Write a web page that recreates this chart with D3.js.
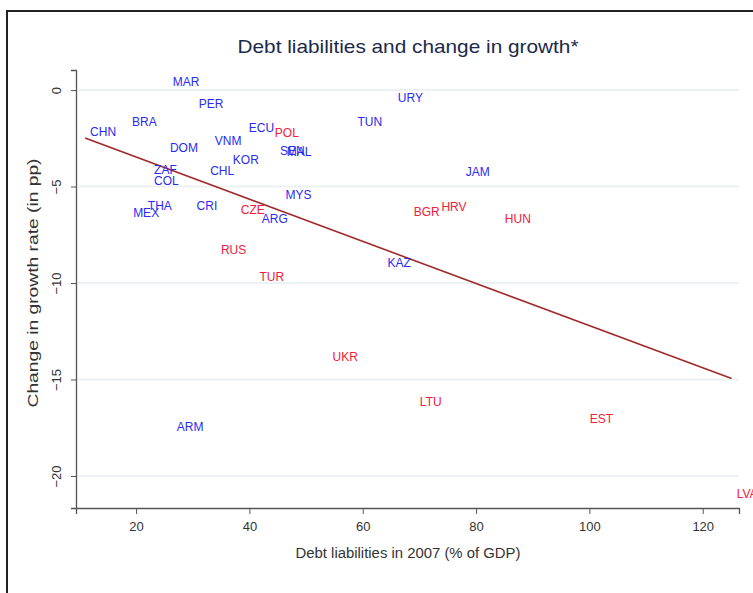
<!DOCTYPE html>
<html><head><meta charset="utf-8">
<script src="https://cdn.jsdelivr.net/npm/d3@7"></script>
<style>body{margin:0;background:#fff;overflow:hidden}svg{display:block;font-family:"Liberation Sans",Arial,sans-serif}</style>
</head><body>
<svg id="c" width="753" height="593"></svg>
<script>
// Country codes, debt liabilities 2007 (% GDP), change in growth (pp), group (1 = emerging Europe, red)
const countries = ["MAR","PER","URY","BRA","CHN","ECU","POL","TUN","VNM","DOM","SEN","MAL","KOR","CHL","ZAF","COL","JAM","MYS","THA","MEX","CRI","CZE","ARG","BGR","HRV","HUN","RUS","TUR","KAZ","UKR","LTU","EST","ARM","LVA"];
const debt =      [25.6, 30.2, 65.3, 18.4, 11.0, 39.0, 43.6, 58.2, 33.0, 25.1, 44.5, 45.7, 36.2, 32.2, 22.3, 22.3, 77.3, 45.5, 21.2, 18.6, 29.8, 37.6, 41.3, 68.1, 73.0, 84.2, 34.1, 40.9, 63.5, 53.8, 69.2, 99.2, 26.3, 125.1];
const growthChg = [0.41,-0.73,-0.41,-1.66,-2.18,-1.97,-2.23,-1.66,-2.64,-3.01,-3.16,-3.21,-3.63,-4.20,-4.15,-4.72,-4.25,-5.44,-6.01,-6.37,-6.01,-6.22,-6.68,-6.32,-6.06,-6.68,-8.29,-9.69,-8.96,-13.83,-16.17,-17.05,-17.46,-20.93];
const group =     [0,0,0,0,0,0,1,0,0,0,0,0,0,0,0,0,0,0,0,0,0,1,0,1,1,1,1,1,0,1,1,1,0,1];
// Fitted line endpoints
const fitX = [11.0, 125.1];
const fitY = [-2.49, -14.95];
const xTicks = [20, 40, 60, 80, 100, 120];
const yTicks = [0, -5, -10, -15, -20];

const svg = d3.select("#c");
// outer frame
svg.append("rect").attr("x",7).attr("y",11).attr("width",800).attr("height",700)
  .attr("fill","none").attr("stroke","#222").attr("stroke-width",2);

const x = d3.scaleLinear().domain([9.4, 126.4]).range([76, 739]);
const y = d3.scaleLinear().domain([1.04, -21.66]).range([70, 508]);

// gridlines
svg.append("g").selectAll("line").data(yTicks).join("line")
  .attr("x1",78).attr("x2",739).attr("y1",d=>y(d)).attr("y2",d=>y(d))
  .attr("stroke","#eaf2f4").attr("stroke-width",2);

// axes
const ax = svg.append("g").attr("transform","translate(0,508)")
  .call(d3.axisBottom(x).tickValues(xTicks).tickSize(6).tickPadding(8).tickFormat(d3.format("d")));
const ay = svg.append("g").attr("transform","translate(76,0)")
  .call(d3.axisLeft(y).tickValues(yTicks).tickSize(5).tickFormat(d3.format("d")));
[ax, ay].forEach(g=>{
  g.select(".domain").attr("stroke","#555").attr("stroke-width",1.3);
  g.selectAll(".tick line").attr("stroke","#555");
  g.selectAll("text").attr("fill","#333").attr("font-size",13);
});
ay.selectAll(".tick text").attr("text-anchor","middle").attr("x",0).attr("dy",0)
  .attr("transform","translate(-15,0) rotate(-90)");
ax.selectAll(".tick text").attr("dy","0.71em");

// fitted line
svg.append("path").datum(fitX.map((v,i)=>[v, fitY[i]]))
  .attr("d", d3.line().x(d=>x(d[0])).y(d=>y(d[1])))
  .attr("fill","none").attr("stroke","#a02a2a").attr("stroke-width",1.6);

// labels
svg.append("g").selectAll("text").data(countries).join("text")
  .attr("x",(d,i)=>x(debt[i])+5).attr("y",(d,i)=>y(growthChg[i])).attr("dy","0.36em")
  .attr("font-size",12).attr("fill",(d,i)=>group[i]?"#f0203a":"#2a2af0")
  .text(d=>d);

// titles
svg.append("text").attr("x",408).attr("y",53).attr("text-anchor","middle")
  .attr("font-size",19).attr("fill","#1b2a4a").attr("textLength",341).attr("lengthAdjust","spacingAndGlyphs")
  .text("Debt liabilities and change in growth*");
svg.append("text").attr("x",408).attr("y",558).attr("text-anchor","middle")
  .attr("font-size",14).attr("fill","#333").attr("textLength",225).attr("lengthAdjust","spacingAndGlyphs")
  .text("Debt liabilities in 2007 (% of GDP)");
svg.append("text").attr("transform","translate(38,283) rotate(-90)").attr("text-anchor","middle")
  .attr("font-size",14).attr("fill","#333").attr("textLength",249).attr("lengthAdjust","spacingAndGlyphs")
  .text("Change in growth rate (in pp)");
</script>
</body></html>
